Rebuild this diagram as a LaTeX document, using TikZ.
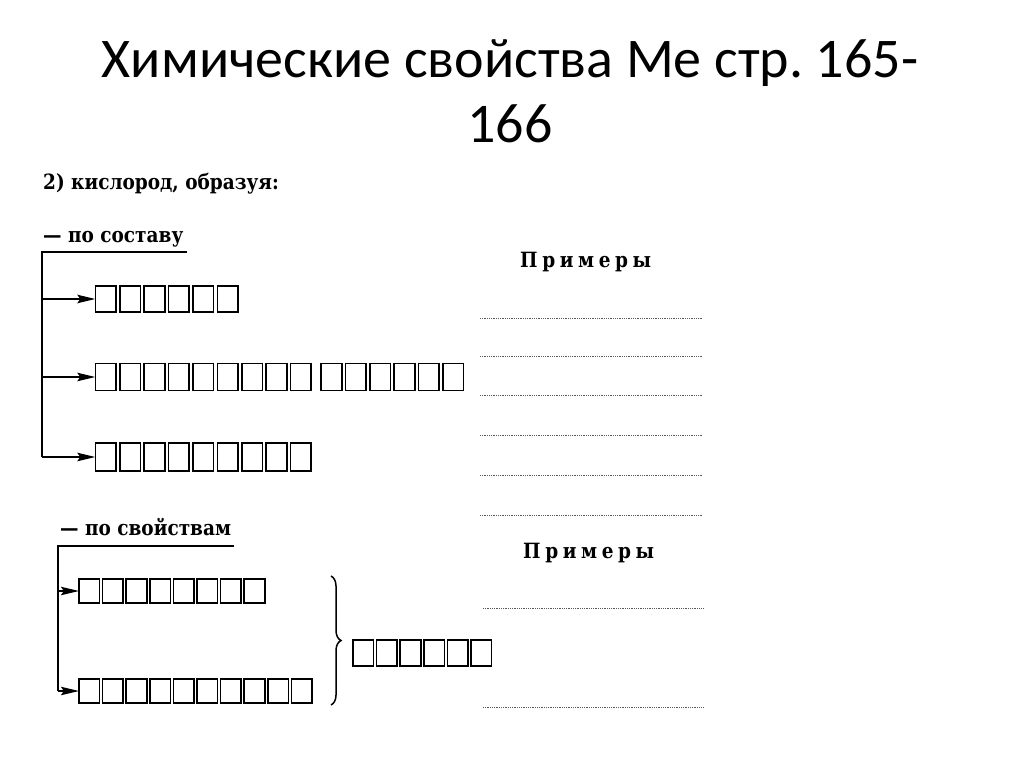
\documentclass[tikz,border=0pt]{standalone}
\usepackage{fontspec}
\setmainfont{DejaVu Serif}
\newfontfamily\titlefont{Carlito}
\newfontfamily\bookfont[FakeStretch=0.88]{DejaVu Serif}
\usetikzlibrary{arrows.meta,decorations.pathreplacing}
\frenchspacing
\tikzset{
  cell/.style={draw, line width=1.6pt, minimum width=20.6pt, inner sep=0pt, outer sep=0pt},
  arr/.style={line width=1.4pt, -{Stealth[length=18pt,width=8.5pt,inset=3pt]}},
  frame/.style={line width=1.4pt},
  dots/.style={line width=0.9pt, black!65, dash pattern=on 0.9pt off 0.9pt},
  booktext/.style={font=\bookfont\bfseries\fontsize{21}{24}\selectfont, inner sep=0pt, anchor=base west},
  examples/.style={font=\bookfont\bfseries\fontsize{21}{24}\selectfont, inner sep=0pt, anchor=base west},
  titletext/.style={font=\titlefont\fontsize{56}{60}\selectfont, inner sep=0pt, anchor=base}
}
\newcommand\cellrow[6]{%
  \foreach \i in {1,...,#2}{%
    \node[cell, minimum height=#6] (#1-\i) at ({#3+(\i-0.5)*#4-0.6},#5) {};
  }%
}
\begin{document}
\begin{tikzpicture}[x=1pt,y=-1pt]
\useasboundingbox (0,0) rectangle (1024,767);
\fill[white] (0,0) rectangle (1024,767);

% title
\node[titletext] (title1) at (510,78) {Химические свойства Ме стр. 165-};
\node[titletext] (title2) at (510,143) {166};

% headings
\node[booktext] (h1) at (43,190) {2) кислород, образуя:};
\node[booktext] (h2) at (43,242) {— по составу};
\node[booktext] (h3) at (60,535) {— по свойствам};

\node[examples] (ex1) at (520,267) {\addfontfeature{LetterSpace=22}Примеры};
\node[examples] (ex2) at (523,558) {\addfontfeature{LetterSpace=22}Примеры};

% dotted example lines
\foreach \y in {318,356,395,435,475,515}{
  \draw[dots] (480,\y) -- (703,\y);
}
\foreach \y in {608,707}{
  \draw[dots] (483,\y) -- (703,\y);
}

% rows of cells (by composition)
\cellrow{ra}{6}{94}{24.4}{299}{26.5pt}
\cellrow{rb}{9}{94}{24.4}{377}{27pt}
\cellrow{rc}{6}{320}{24.3}{377}{27pt}
\cellrow{rd}{9}{94}{24.4}{457}{27.5pt}

% rows of cells (by properties)
\cellrow{re}{8}{78}{23.6}{591}{24.5pt}
\cellrow{rf}{10}{78}{23.6}{691}{24.5pt}
\cellrow{rg}{6}{352}{23.6}{653}{26.5pt}

% frame of "по составу"
\coordinate (t1) at (42,252);
\coordinate (e1) at (187,252);
\draw[frame] (e1) -- (t1) -- (t1 |- rd-1.west);
\draw[arr] (t1 |- ra-1.west) -- (ra-1.west);
\draw[arr] (t1 |- rb-1.west) -- (rb-1.west);
\draw[arr] (t1 |- rd-1.west) -- (rd-1.west);

% frame of "по свойствам"
\coordinate (t2) at (58,546);
\coordinate (e2) at (234,546);
\draw[frame] (e2) -- (t2) -- (t2 |- rf-1.west);
\draw[arr] (t2 |- re-1.west) -- (re-1.west);
\draw[arr] (t2 |- rf-1.west) -- (rf-1.west);

% brace
\coordinate (bt) at (331,576);
\coordinate (bb) at (331,705);
\draw[line width=1.5pt, decorate, decoration={brace, amplitude=10pt}] (bt) -- (bb);
\end{tikzpicture}
\end{document}
